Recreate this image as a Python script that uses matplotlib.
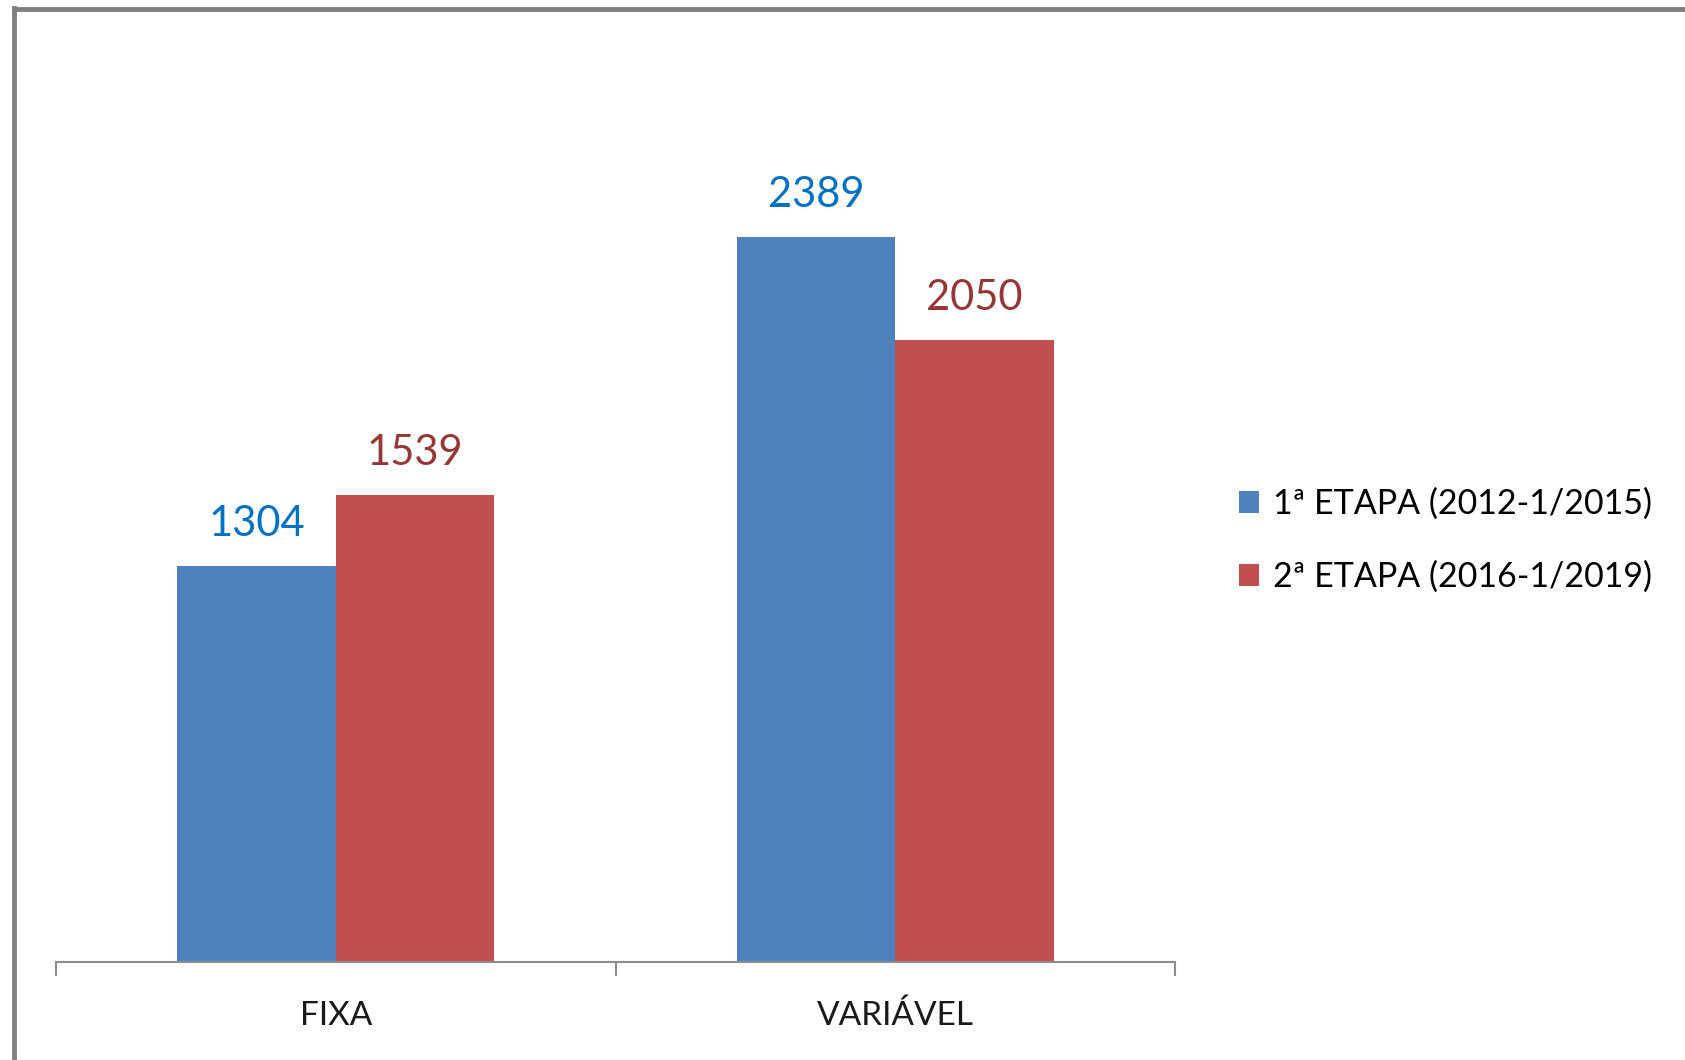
import matplotlib.pyplot as plt
from matplotlib.lines import Line2D
import numpy as np

plt.rcParams['font.family'] = ['Lato', 'DejaVu Sans']

categories = ["FIXA", "VARIÁVEL"]
series_names = ["1ª ETAPA (2012-1/2015)", "2ª ETAPA (2016-1/2019)"]
etapa1 = [1304, 2389]
etapa2 = [1539, 2050]

BAR_COLORS = ["#4F81BD", "#C0504D"]
LABEL_COLORS = ["#0070C0", "#953735"]
AXIS_GREY = "#8C8C8C"

fig = plt.figure(figsize=(16.85, 10.6), dpi=100)
W, H = 1685, 1060
ax = fig.add_axes([56 / W, (H - 962) / H, (1175 - 56) / W, 910 / H])

x = np.arange(len(categories))
bw = 0.283
for i, (vals, name) in enumerate(zip([etapa1, etapa2], series_names)):
    bars = ax.bar(x + (i - 0.5) * bw, vals, width=bw, color=BAR_COLORS[i],
                  label=name, zorder=2)
    ax.bar_label(bars, labels=[str(v) for v in vals], padding=17,
                 fontsize=30, color=LABEL_COLORS[i])

ax.set_xlim(-0.5, 1.5)
ax.set_ylim(0, 3000)
for s in ["top", "right", "left"]:
    ax.spines[s].set_visible(False)
ax.spines["bottom"].set_color(AXIS_GREY)
ax.spines["bottom"].set_linewidth(1.5)
ax.set_yticks([])
ax.set_xticks([-0.5, 0.5, 1.5])
ax.set_xticklabels([])
ax.tick_params(axis="x", which="major", length=10, width=1.5, color=AXIS_GREY,
               direction="out")
ax.set_xticks(x, minor=True)
ax.set_xticklabels(categories, minor=True, fontsize=24, color="#1a1a1a")
ax.tick_params(axis="x", which="minor", length=0, pad=28)

leg = fig.legend(loc="upper left", bbox_to_anchor=(1225 / W, 1 - 474 / H),
                 frameon=False, fontsize=24.5, handlelength=0.6, handleheight=0.6,
                 handletextpad=0.4, labelspacing=1.2, borderaxespad=0)

# outer chart frame (left and top visible)
fig.add_artist(Line2D([14 / W, 14 / W], [0, 1 - 8 / H], transform=fig.transFigure,
                      color="#808080", lw=3.5))
fig.add_artist(Line2D([14 / W, 1], [1 - 9 / H, 1 - 9 / H], transform=fig.transFigure,
                      color="#808080", lw=3.5))

fig.savefig("out.png", dpi=100)
